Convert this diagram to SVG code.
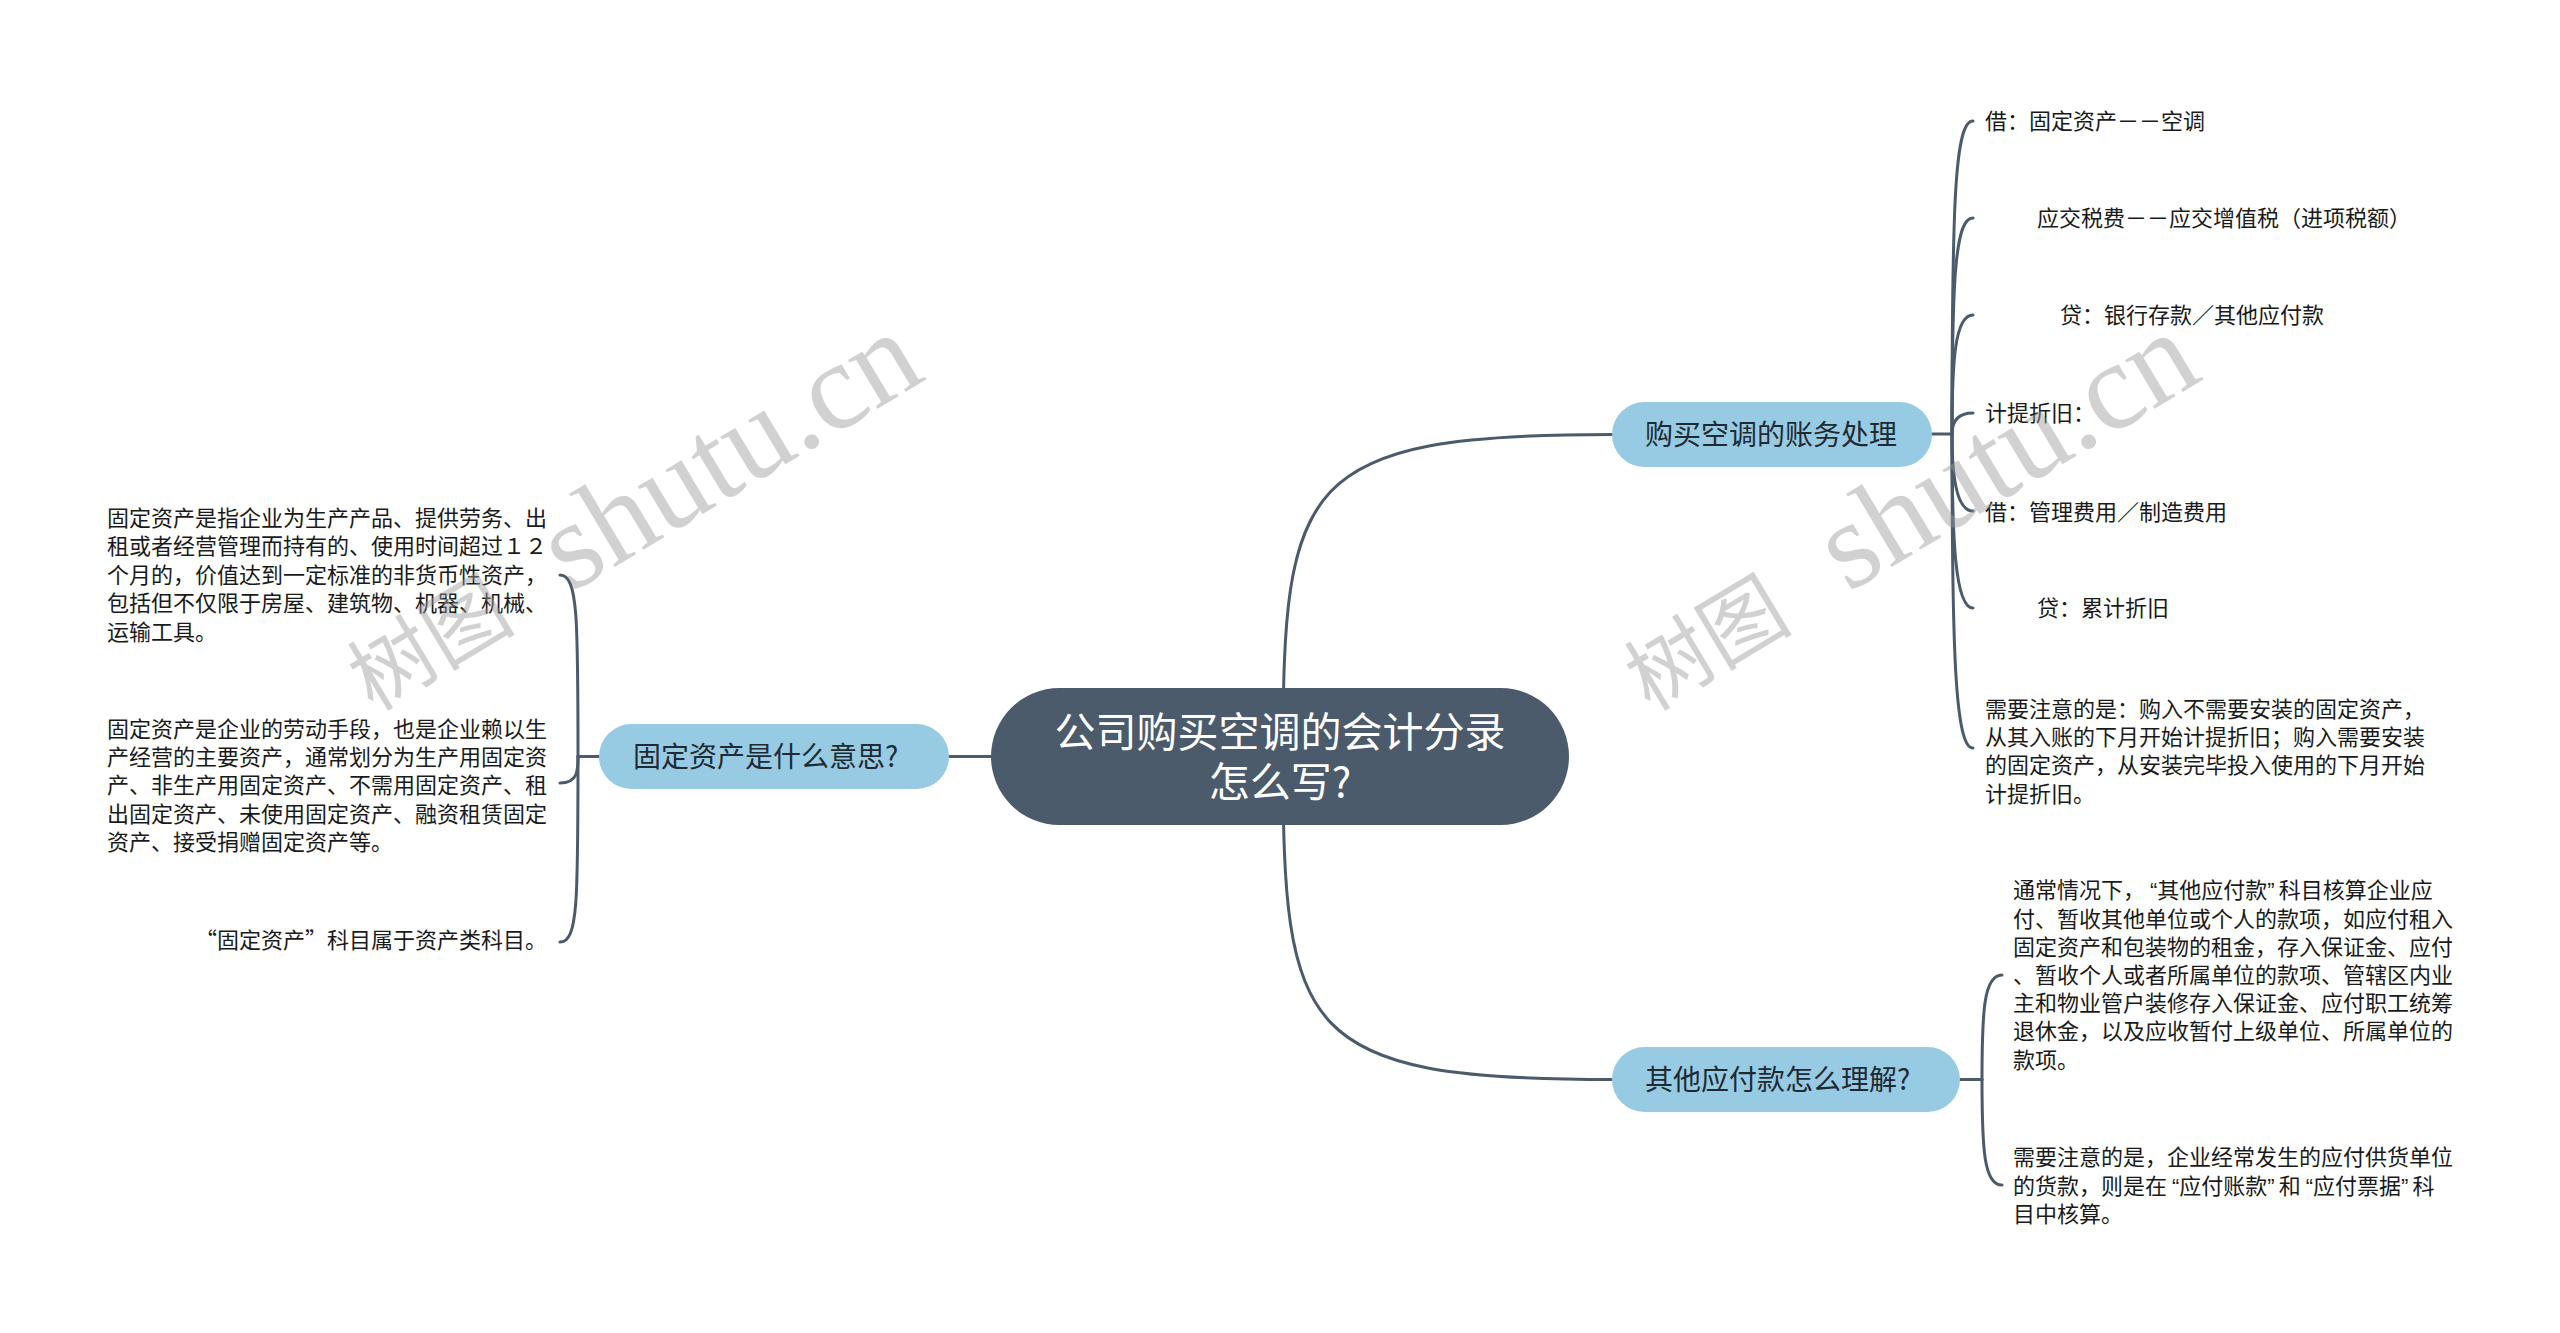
<svg xmlns="http://www.w3.org/2000/svg" width="2560" height="1333" viewBox="0 0 2560 1333">
<style>
.bg{fill:#ffffff}
.ln{fill:none;stroke:#4B5B6B;stroke-width:3;stroke-linecap:round}
.root{fill:#4B5B6B}
.main{fill:#97CBE3}
.rt{font-family:"Noto Sans CJK SC","Noto Sans",sans-serif;font-size:41px;fill:#ffffff}
.mt{font-family:"Noto Sans CJK SC","Noto Sans",sans-serif;font-size:28px;fill:#1f2a33}
.lf{font-family:"Noto Sans CJK SC","Noto Sans",sans-serif;font-size:22px;fill:#1a1a1a}
.q{font-family:"Liberation Sans","Noto Sans",sans-serif}
.wm{font-family:"Liberation Serif","Noto Serif CJK SC","Noto Sans CJK SC",serif;fill:#9a9a9a;fill-opacity:0.45}
.wc{font-family:"Noto Sans CJK SC",sans-serif}
</style>
<rect class="bg" x="0" y="0" width="2560" height="1333"/>
<g id="connectors">
<path class="ln" d="M1283 756 C1283 480 1300 434.5 1612 434.5"/>
<path class="ln" d="M1283 756 C1283 1035 1300 1079.5 1612 1079.5"/>
<path class="ln" d="M991 756.5 H949"/>
<path class="ln" d="M599 756.5 H578"/>
<path class="ln" d="M578 756.5 C578 620 578 575 560 575"/>
<path class="ln" d="M578 756.5 C578 770 578 783 560 783"/>
<path class="ln" d="M578 756.5 C578 900 578 942 560 942"/>
<path class="ln" d="M1932 434 H1952"/>
<path class="ln" d="M1952 434 C1952 200 1955 121 1973 121"/>
<path class="ln" d="M1952 434 C1952 280 1955 218 1973 218"/>
<path class="ln" d="M1952 434 C1952 360 1955 315 1973 315"/>
<path class="ln" d="M1952 434 C1952 425 1955 413 1973 413"/>
<path class="ln" d="M1952 434 C1952 470 1955 511 1973 511"/>
<path class="ln" d="M1952 434 C1952 540 1955 608 1973 608"/>
<path class="ln" d="M1952 434 C1952 650 1955 748 1973 748"/>
<path class="ln" d="M1960 1079.5 H1982"/>
<path class="ln" d="M1982 1079.5 C1982 1010 1984 975 2002 975"/>
<path class="ln" d="M1982 1079.5 C1982 1150 1984 1185 2002 1185"/>
</g>
<g id="root">
<rect class="root" x="991" y="688" width="578" height="137" rx="68.5"/>
<text class="rt" text-anchor="middle"><tspan x="1280" y="747">公司购买空调的会计分录</tspan><tspan x="1280" y="797">怎么写?</tspan></text>
</g>
<g id="node-left">
<rect class="main" x="599" y="724" width="350" height="65" rx="32.5"/>
<text class="mt" x="633" y="767">固定资产是什么意思?</text>
</g>
<g id="node-right-top">
<rect class="main" x="1612" y="402" width="320" height="65" rx="32.5"/>
<text class="mt" x="1645" y="445">购买空调的账务处理</text>
</g>
<g id="node-right-bottom">
<rect class="main" x="1612" y="1047" width="348" height="65" rx="32.5"/>
<text class="mt" x="1645" y="1090">其他应付款怎么理解?</text>
</g>
<g id="leaf-l1" class="lf">
<text x="107" y="526">固定资产是指企业为生产产品、提供劳务、出</text>
<text x="107" y="554.4">租或者经营管理而持有的、使用时间超过１２</text>
<text x="107" y="582.8">个月的，价值达到一定标准的非货币性资产，</text>
<text x="107" y="611.2">包括但不仅限于房屋、建筑物、机器、机械、</text>
<text x="107" y="639.6">运输工具。</text>
</g>
<g id="leaf-l2" class="lf">
<text x="107" y="736.5">固定资产是企业的劳动手段，也是企业赖以生</text>
<text x="107" y="764.9">产经营的主要资产，通常划分为生产用固定资</text>
<text x="107" y="793.3">产、非生产用固定资产、不需用固定资产、租</text>
<text x="107" y="821.7">出固定资产、未使用固定资产、融资租赁固定</text>
<text x="107" y="850.1">资产、接受捐赠固定资产等。</text>
</g>
<g id="leaf-l3" class="lf">
<text x="547" y="948" text-anchor="end">“固定资产”科目属于资产类科目。</text>
</g>
<g id="leaf-r1" class="lf"><text x="1985" y="129">借：固定资产－－空调</text></g>
<g id="leaf-r2" class="lf"><text x="2037" y="226">应交税费－－应交增值税（进项税额）</text></g>
<g id="leaf-r3" class="lf"><text x="2060" y="323">贷：银行存款／其他应付款</text></g>
<g id="leaf-r4" class="lf"><text x="1985" y="421">计提折旧：</text></g>
<g id="leaf-r5" class="lf"><text x="1985" y="520">借：管理费用／制造费用</text></g>
<g id="leaf-r6" class="lf"><text x="2037" y="616">贷：累计折旧</text></g>
<g id="leaf-r7" class="lf">
<text x="1985" y="716.5">需要注意的是：购入不需要安装的固定资产，</text>
<text x="1985" y="744.9">从其入账的下月开始计提折旧；购入需要安装</text>
<text x="1985" y="773.3">的固定资产，从安装完毕投入使用的下月开始</text>
<text x="1985" y="801.7">计提折旧。</text>
</g>
<g id="leaf-b1" class="lf">
<text x="2013" y="898.4">通常情况下，<tspan class="q" dx="5">“</tspan>其他应付款<tspan class="q">”</tspan><tspan dx="4">科目核算企业应</tspan></text>
<text x="2013" y="926.6">付、暂收其他单位或个人的款项，如应付租入</text>
<text x="2013" y="954.8">固定资产和包装物的租金，存入保证金、应付</text>
<text x="2013" y="983">、暂收个人或者所属单位的款项、管辖区内业</text>
<text x="2013" y="1011.2">主和物业管户装修存入保证金、应付职工统筹</text>
<text x="2013" y="1039.4">退休金，以及应收暂付上级单位、所属单位的</text>
<text x="2013" y="1067.6">款项。</text>
</g>
<g id="leaf-b2" class="lf">
<text x="2013" y="1165.4">需要注意的是，企业经常发生的应付供货单位</text>
<text x="2013" y="1193.6">的货款，则是在<tspan class="q" dx="5">“</tspan>应付账款<tspan class="q">”</tspan><tspan dx="4">和</tspan><tspan class="q" dx="5">“</tspan>应付票据<tspan class="q">”</tspan><tspan dx="4">科</tspan></text>
<text x="2013" y="1221.8">目中核算。</text>
</g>
<g id="watermarks">
<text class="wm" transform="translate(373 712) rotate(-31)"><tspan class="wc" font-size="84">树图</tspan><tspan font-size="124" dx="32"> shutu.cn</tspan></text>
<text class="wm" transform="translate(1650 712) rotate(-31)"><tspan class="wc" font-size="84">树图</tspan><tspan font-size="124" dx="32"> shutu.cn</tspan></text>
</g>
</svg>
